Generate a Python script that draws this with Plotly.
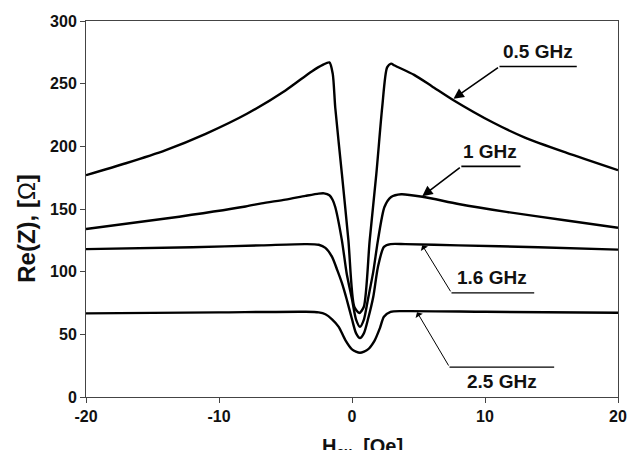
import plotly.graph_objects as go

# ---- data (H_ex in Oe, Re(Z) in Ohm) ----
h_05 = [-20, -17, -14, -11, -7.9, -5, -3, -2.2, -1.7, -1.45, -1.26, -0.76, -0.27, 0.17, 0.55,
        0.89, 1.33, 1.83, 2.27, 2.64, 2.94, 3.2, 4.67, 6, 7.6, 10.6, 13, 16.1, 20]
z_05 = [177, 186.5, 197, 210, 226, 244.6, 260, 265, 267, 258, 231, 178, 125, 72, 67,
        72, 125, 178, 231, 263, 266, 264.5, 257, 248, 237, 219, 207, 195, 181]

h_1 = [-20, -14, -8, -6.8, -5, -3.5, -2.5, -2.1, -1.7, -1.46, -1.26, -0.76, -0.4, 0.0, 0.3, 0.6,
       0.9, 1.2, 1.6, 1.95, 2.44, 2.94, 3.7, 5.4, 8, 11.6, 16, 20]
z_1 = [134, 142.4, 152, 154.5, 157.5, 160.5, 162.3, 162.5, 161, 157.4, 151.6, 125, 98.6, 78, 62, 56,
       62, 78, 100, 125, 151.6, 159.6, 161.8, 159.6, 154, 147.7, 141, 135]

h_16 = [-20, -12, -6.8, -3.5, -2.5, -2.0, -1.5, -1.1, -0.76, -0.4, 0.0, 0.3, 0.6, 0.9, 1.2, 1.6,
        1.95, 2.4, 2.9, 4, 8, 14, 20]
z_16 = [118, 119.5, 121, 122, 121.5, 119, 111.8, 101, 91, 78, 62, 51, 47, 51, 62, 80,
        103.8, 119.8, 122, 122, 121, 119.5, 117.6]

h_25 = [-20, -10, -3.5, -2.5, -2.0, -1.5, -1.0, -0.5, 0.0, 0.6, 1.2, 1.7, 2.1, 2.4, 2.9, 4, 10, 20]
z_25 = [66.7, 67.5, 68, 67.5, 66, 62, 56, 45.4, 38, 35.3, 38, 45, 55, 64, 68, 68.5, 68, 67.2]

series = [("0.5 GHz", h_05, z_05), ("1 GHz", h_1, z_1), ("1.6 GHz", h_16, z_16), ("2.5 GHz", h_25, z_25)]

x_ticks = [-20, -10, 0, 10, 20]
y_ticks = [0, 50, 100, 150, 200, 250, 300]

# label geometry (data coords): tip on curve, tail/underline, text
labels = [
    # text, tip_x, tip_y, tail_x, tail_y, line_end_x, text_x, text_y, text_anchor, thick
    ("0.5 GHz", 7.63, 238, 11.09, 263.7, 16.9, 14.0, 265.5, "bottom", True),
    ("1 GHz", 5.28, 160.2, 8.22, 184, 12.67, 10.4, 186, "bottom", True),
    ("1.6 GHz", 5.28, 121.1, 7.48, 83.1, 13.7, 10.5, 85, "bottom", False),
    ("2.5 GHz", 4.89, 67.7, 7.33, 23.9, 15.2, 11.3, 22, "top", False),
]

fig = go.Figure()
for name, hx, zy in series:
    fig.add_trace(go.Scatter(x=hx, y=zy, mode="lines", name=name,
                             line=dict(color="black", width=2.4, shape="spline", smoothing=0.7),
                             showlegend=False, hoverinfo="skip"))

FONT = "Liberation Sans, Arial, sans-serif"
annotations = []
shapes = []
for text, tx, ty, ax, ay, lx, txx, tyy, anc, thick in labels:
    annotations.append(dict(x=tx, y=ty, ax=ax, ay=ay, xref="x", yref="y", axref="x", ayref="y",
                            text="", showarrow=True,
                            arrowhead=2 if thick else 1,
                            arrowsize=1.3 if thick else 1.4,
                            arrowwidth=1.6 if thick else 1.0,
                            arrowcolor="black"))
    shapes.append(dict(type="line", xref="x", yref="y", x0=ax, x1=lx, y0=ay, y1=ay,
                       line=dict(color="black", width=1.6 if thick else 1.3)))
    annotations.append(dict(x=txx, y=tyy, xref="x", yref="y", text="<b>%s</b>" % text,
                            showarrow=False, xanchor="center", yanchor=anc,
                            font=dict(family=FONT, size=19, color="#111")))

# axis titles
annotations.append(dict(x=-0.111, y=0.45, xref="paper", yref="paper", textangle=-90,
                        text="<b>Re(Z), [</b>Ω<b>]</b>", showarrow=False,
                        xanchor="center", yanchor="middle",
                        font=dict(family=FONT, size=24, color="#111")))
annotations.append(dict(x=0.52, y=-0.095, xref="paper", yref="paper",
                        text="<b>H<sub>ex</sub>, [Oe]</b>", showarrow=False,
                        xanchor="center", yanchor="top",
                        font=dict(family=FONT, size=20, color="#111")))

fig.update_layout(
    width=637, height=450,
    margin=dict(l=86, r=10, t=21, b=53),
    paper_bgcolor="white", plot_bgcolor="white",
    annotations=annotations, shapes=shapes,
    font=dict(family=FONT, color="#111"),
)
fig.update_xaxes(range=[-20, 20], tickvals=x_ticks, ticktext=["<b>%d</b>" % v for v in x_ticks],
                 ticks="outside", ticklen=5, tickcolor="#444", showgrid=False, zeroline=False,
                 showline=True, linecolor="#444", linewidth=1, mirror=True,
                 tickfont=dict(family=FONT, size=16, color="#111"))
fig.update_yaxes(range=[0, 300], tickvals=y_ticks, ticktext=["<b>%d</b>" % v for v in y_ticks],
                 ticks="outside", ticklen=5, tickcolor="#444", showgrid=False, zeroline=False,
                 showline=True, linecolor="#444", linewidth=1, mirror=True,
                 tickfont=dict(family=FONT, size=16, color="#111"))

fig.write_html("out.html")
